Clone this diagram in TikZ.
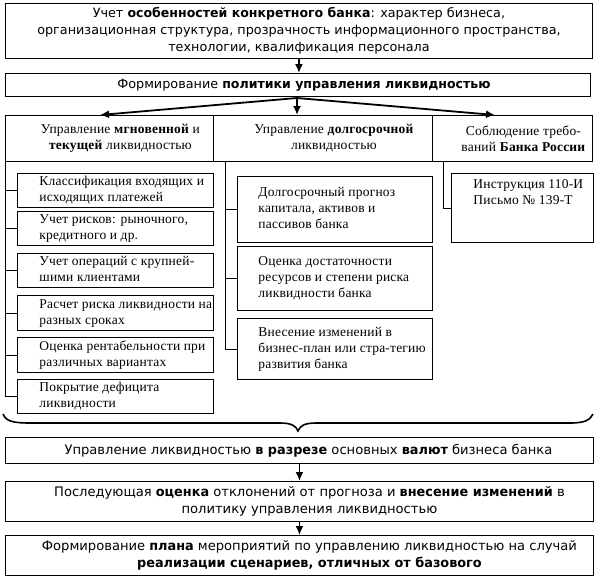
\documentclass[tikz,border=0pt]{standalone}
\usepackage{fontspec}
\setmainfont{Liberation Serif}[LetterSpace=1.5]
\newfontfamily\sansf{DejaVu Sans}[BoldFont={DejaVu Sans Bold}, BoldFeatures={FakeStretch=0.98}]
\usetikzlibrary{arrows.meta}
\newcommand\lines[3]{\makebox[#1][l]{\hspace*{#2}\begin{tabular}{@{}l@{}}#3\end{tabular}}}
\newcommand\ctr[3]{\parbox{#1}{\centering\leftskip=#2 plus 1fil\relax #3}}
\begin{document}
\begin{tikzpicture}[x=1pt,y=-1pt,
  box/.style={draw, line width=0.9pt, inner sep=0pt, anchor=north west},
  sbox/.style={box, font=\sansf\fontsize{12.8}{17}\selectfont},
  bbox/.style={box, font=\sansf\fontsize{13.1}{17}\selectfont},
  hbox/.style={box, font=\fontsize{13.5}{16}\selectfont},
  tbox/.style={box, font=\fontsize{13.5}{16}\selectfont},
  arr/.style={line width=1.8pt, -{Latex[length=9pt,width=8pt]}},
  conn/.style={line width=0.9pt},
  brace/.style={line width=1.6pt}]
\useasboundingbox[fill=white] (0,0) rectangle (616,576);

% top boxes
\node[sbox, minimum width=587pt, minimum height=55pt] (top) at (5,3)
  {\ctr{587pt}{0pt}{Учет \textbf{особенностей конкретного банка}: характер бизнеса,\\
   организационная структура, прозрачность информационного пространства,\\
   технологии, квалификация персонала}};
\node[sbox, minimum width=585pt, minimum height=23pt] (pol) at (5,73)
  {\ctr{585pt}{12pt}{Формирование \textbf{политики управления ликвидностью}}};

% headers
\node[hbox, minimum width=208pt, minimum height=46pt] (hl) at (5,115)
  {\ctr{208pt}{22pt}{Управление \textbf{мгновенной} и\\ \textbf{текущей} ликвидностью}};
\node[hbox, minimum width=219pt, minimum height=46pt] (hm) at (213,115)
  {\ctr{219pt}{22pt}{Управление \textbf{долгосрочной}\\ ликвидностью}};
\node[hbox, minimum width=160pt, minimum height=46pt] (hr) at (432,115)
  {\ctr{160pt}{22pt}{Соблюдение требо-\\ваний \textbf{Банка России}}};

% arrows from policy box
\coordinate (sp) at (297,98);
\coordinate (tl) at (100,115);
\coordinate (tr) at (495,115);
\draw[arr] (top.south) -- (top.south |- pol.north);
\draw[arr] (sp) -- (tl);
\draw[arr] (sp) -- (sp |- hm.north);
\draw[arr] (sp) -- (tr);

% left column
\node[tbox, minimum width=196pt, minimum height=34pt] (l1) at (17,173)
  {\lines{196pt}{22pt}{Классификация входящих и\\исходящих платежей}};
\node[tbox, minimum width=196pt, minimum height=34pt] (l2) at (17,211)
  {\lines{196pt}{22pt}{Учет рисков: рыночного,\\кредитного и др.}};
\node[tbox, minimum width=196pt, minimum height=34pt] (l3) at (17,253)
  {\lines{196pt}{22pt}{Учет операций с крупней-\\шими клиентами}};
\node[tbox, minimum width=196pt, minimum height=35pt] (l4) at (17,295)
  {\lines{196pt}{22pt}{Расчет риска ликвидности на\\разных сроках}};
\node[tbox, minimum width=196pt, minimum height=35pt] (l5) at (17,337)
  {\lines{196pt}{22pt}{Оценка рентабельности при\\различных вариантах}};
\node[tbox, minimum width=196pt, minimum height=34pt] (l6) at (17,379)
  {\lines{196pt}{22pt}{Покрытие дефицита\\ликвидности}};
\draw[conn] (hl.south west) |- (l6.west);
\foreach \n in {l1,l2,l3,l4,l5}{\draw[conn] (\n.west) -- (\n.west -| hl.south west);}

% middle column
\node[tbox, minimum width=195pt, minimum height=66pt] (m1) at (237,176)
  {\lines{195pt}{21pt}{Долгосрочный прогноз\\капитала, активов и\\пассивов банка}};
\node[tbox, minimum width=195pt, minimum height=64pt] (m2) at (237,246)
  {\lines{195pt}{21pt}{Оценка достаточности\\ресурсов и степени риска\\ликвидности банка}};
\node[tbox, minimum width=195pt, minimum height=61pt] (m3) at (237,318)
  {\lines{195pt}{21pt}{Внесение изменений в\\бизнес-план или стра-тегию\\развития банка}};
\coordinate (mtop) at (225,161);
\draw[conn] (mtop) |- (m3.west);
\foreach \n in {m1,m2}{\draw[conn] (\n.west) -- (\n.west -| mtop);}

% right column
\node[tbox, minimum width=142pt, minimum height=69pt] (r1) at (451,173)
  {\parbox[c][69pt][t]{142pt}{\vspace*{4pt}\lines{142pt}{22pt}{Инструкция 110-И\\Письмо № 139-Т}}};
\coordinate (rtop) at (443,161);
\draw[conn] (rtop) |- (r1.west);

% brace
\draw[brace] (3,414) .. controls (6,421) and (12,423) .. (30,423) -- (280,423)
  .. controls (292,423) and (296,426) .. (298,431)
  .. controls (300,426) and (304,423) .. (316,423) -- (570,423)
  .. controls (585,423) and (590,420) .. (593,414);

% bottom boxes
\node[bbox, minimum width=588pt, minimum height=26pt] (b1) at (5,437)
  {\ctr{588pt}{18pt}{Управление ликвидностью \textbf{в разрезе} основных \textbf{валют} бизнеса банка}};
\node[bbox, minimum width=588pt, minimum height=40pt] (b2) at (5,481)
  {\ctr{588pt}{20pt}{Последующая \textbf{оценка} отклонений от прогноза и \textbf{внесение изменений} в\\
   политику управления ликвидностью}};
\node[bbox, minimum width=588pt, minimum height=40pt] (b3) at (5,535)
  {\ctr{588pt}{20pt}{Формирование \textbf{плана} мероприятий по управлению ликвидностью на случай\\
   \textbf{реализации сценариев, отличных от базового}}};
\draw[arr] (b1.south) -- (b1.south |- b2.north);
\draw[arr] (b2.south) -- (b2.south |- b3.north);
\end{tikzpicture}
\end{document}
